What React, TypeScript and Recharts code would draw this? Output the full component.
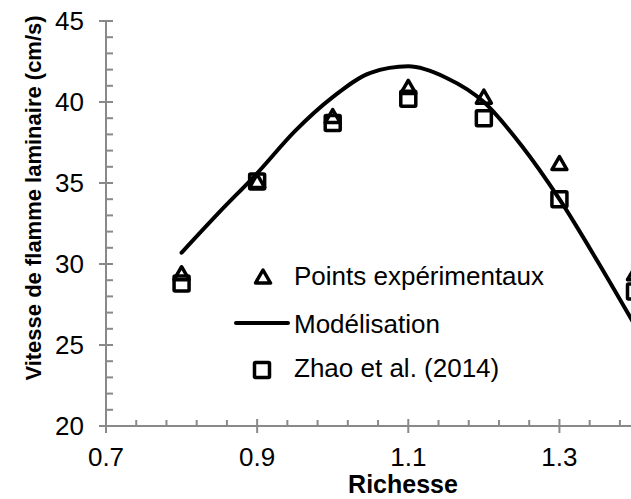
import { ComposedChart, Line, Scatter, XAxis, YAxis, Legend } from "recharts";

// richesse values
const expX = [0.8, 0.9, 1.0, 1.1, 1.2, 1.3, 1.4];
const expY = [29.4, 35.1, 39.1, 40.9, 40.3, 36.2, 29.4];
const zhaoX = [0.8, 0.9, 1.0, 1.1, 1.2, 1.3, 1.4];
const zhaoY = [28.8, 35.1, 38.7, 40.2, 39.0, 34.0, 28.3];
const modelX = [0.8, 0.85, 0.9, 0.95, 1.0, 1.05, 1.1, 1.15, 1.2, 1.25, 1.3, 1.35, 1.4];
const modelY = [30.7, 33.2, 35.6, 38.2, 40.3, 41.8, 42.2, 41.5, 40.0, 37.3, 34.0, 30.2, 26.2];

const xTicks = [0.7, 0.74, 0.78, 0.82, 0.86, 0.9, 0.94, 0.98, 1.02, 1.06, 1.1, 1.14, 1.18, 1.22, 1.26, 1.3, 1.34, 1.38];
const xMajor = [0.7, 0.9, 1.1, 1.3];
const yTicks = [20, 21, 22, 23, 24, 25, 26, 27, 28, 29, 30, 31, 32, 33, 34, 35, 36, 37, 38, 39, 40, 41, 42, 43, 44, 45];
const yMajor = [20, 25, 30, 35, 40, 45];
const legendLabels = ["Points expérimentaux", "Modélisation", "Zhao et al. (2014)"];

const AXIS = "#898989";
const FONT = "'Liberation Sans', Arial, sans-serif";

const expData = expX.map((x, i) => ({ x, y: expY[i] }));
const zhaoData = zhaoX.map((x, i) => ({ x, y: zhaoY[i] }));
const modelData = modelX.map((x, i) => ({ x, y: modelY[i] }));

const Triangle = ({ cx, cy }: { cx: number; cy: number }) => (
  <path
    d={`M${cx},${cy - 7} L${cx + 7.5},${cy + 6} L${cx - 7.5},${cy + 6} Z`}
    fill="none"
    stroke="#000"
    strokeWidth={3.5}
    strokeLinejoin="round"
  />
);

const Square = ({ cx, cy }: { cx: number; cy: number }) => (
  <rect x={cx - 7.5} y={cy - 7.5} width={15} height={15} fill="none" stroke="#000" strokeWidth={3.5} rx={1} />
);

const isIn = (list: number[], v: number) => list.some((m) => Math.abs(m - v) < 1e-6);

const XTick = (props: any) => {
  const { x, y, payload } = props;
  const major = isIn(xMajor, payload.value);
  return (
    <g>
      <line x1={x} x2={x} y1={major ? y - 7 : y - 6} y2={major ? y + 7 : y} stroke={AXIS} strokeWidth={2} />
      {major && (
        <text x={x} y={y + 40} textAnchor="middle" fontSize={26} fontFamily={FONT} fill="#000">
          {Number(payload.value).toFixed(1)}
        </text>
      )}
    </g>
  );
};

const YTick = (props: any) => {
  const { x, y, payload } = props;
  const major = isIn(yMajor, payload.value);
  return (
    <g>
      <line x1={major ? x - 7 : x} x2={x + 7} y1={y} y2={y} stroke={AXIS} strokeWidth={2} />
      {major && (
        <text x={x - 22} y={y + 9} textAnchor="end" fontSize={26} fontFamily={FONT} fill="#000">
          {payload.value}
        </text>
      )}
    </g>
  );
};

const LegendBox = () => (
  <svg width={631} height={499} style={{ position: "absolute", left: 0, top: 0 }}>
    <Triangle cx={263} cy={277} />
    <text x={294} y={285} fontSize={26} fontFamily={FONT} fill="#000">{legendLabels[0]}</text>
    <line x1={236} x2={288} y1={323} y2={323} stroke="#000" strokeWidth={4} strokeLinecap="round" />
    <text x={294} y={333} fontSize={26} fontFamily={FONT} fill="#000">{legendLabels[1]}</text>
    <Square cx={262} cy={370} />
    <text x={294} y={377} fontSize={26} fontFamily={FONT} fill="#000">{legendLabels[2]}</text>
  </svg>
);

export default function App() {
  return (
    <div style={{ position: "absolute", left: 0, top: 0, width: 631, height: 499, overflow: "hidden", background: "#fff" }}>
      <ComposedChart width={640} height={499} margin={{ top: 21, right: 5, bottom: 0, left: 0 }}>
        <XAxis
          type="number"
          dataKey="x"
          domain={[0.7, 1.4]}
          ticks={xTicks}
          interval={0}
          allowDataOverflow
          height={73}
          stroke={AXIS}
          axisLine={{ stroke: AXIS, strokeWidth: 2 }}
          tickLine={false}
          tickSize={0}
          tickMargin={0}
          tick={<XTick />}
          label={{
            content: () => (
              <text x={403} y={493} textAnchor="middle" fontSize={25} fontWeight="bold" fontFamily={FONT} fill="#000">
                Richesse
              </text>
            ),
          }}
        />
        <YAxis
          type="number"
          dataKey="y"
          domain={[20, 45]}
          ticks={yTicks}
          interval={0}
          allowDataOverflow
          width={106}
          axisLine={{ stroke: AXIS, strokeWidth: 2 }}
          tickLine={false}
          tickSize={0}
          tickMargin={0}
          tick={<YTick />}
          label={{
            content: () => (
              <text
                x={41}
                y={198}
                transform="rotate(-90, 41, 198)"
                textAnchor="middle"
                fontSize={22}
                fontWeight="bold"
                fontFamily={FONT}
                fill="#000"
              >
                Vitesse de flamme laminaire (cm/s)
              </text>
            ),
          }}
        />
        <Scatter data={expData} isAnimationActive={false} shape={(p: any) => <Triangle cx={p.cx} cy={p.cy} />} />
        <Scatter data={zhaoData} isAnimationActive={false} shape={(p: any) => <Square cx={p.cx} cy={p.cy} />} />
        <Line
          data={modelData}
          dataKey="y"
          type="monotone"
          stroke="#000"
          strokeWidth={4}
          strokeLinecap="round"
          dot={false}
          activeDot={false}
          isAnimationActive={false}
        />
        <Legend
          layout="vertical"
          align="center"
          verticalAlign="middle"
          wrapperStyle={{ left: 0, top: 0, width: 631, height: 499, pointerEvents: "none" }}
          content={() => <LegendBox />}
        />
      </ComposedChart>
    </div>
  );
}
